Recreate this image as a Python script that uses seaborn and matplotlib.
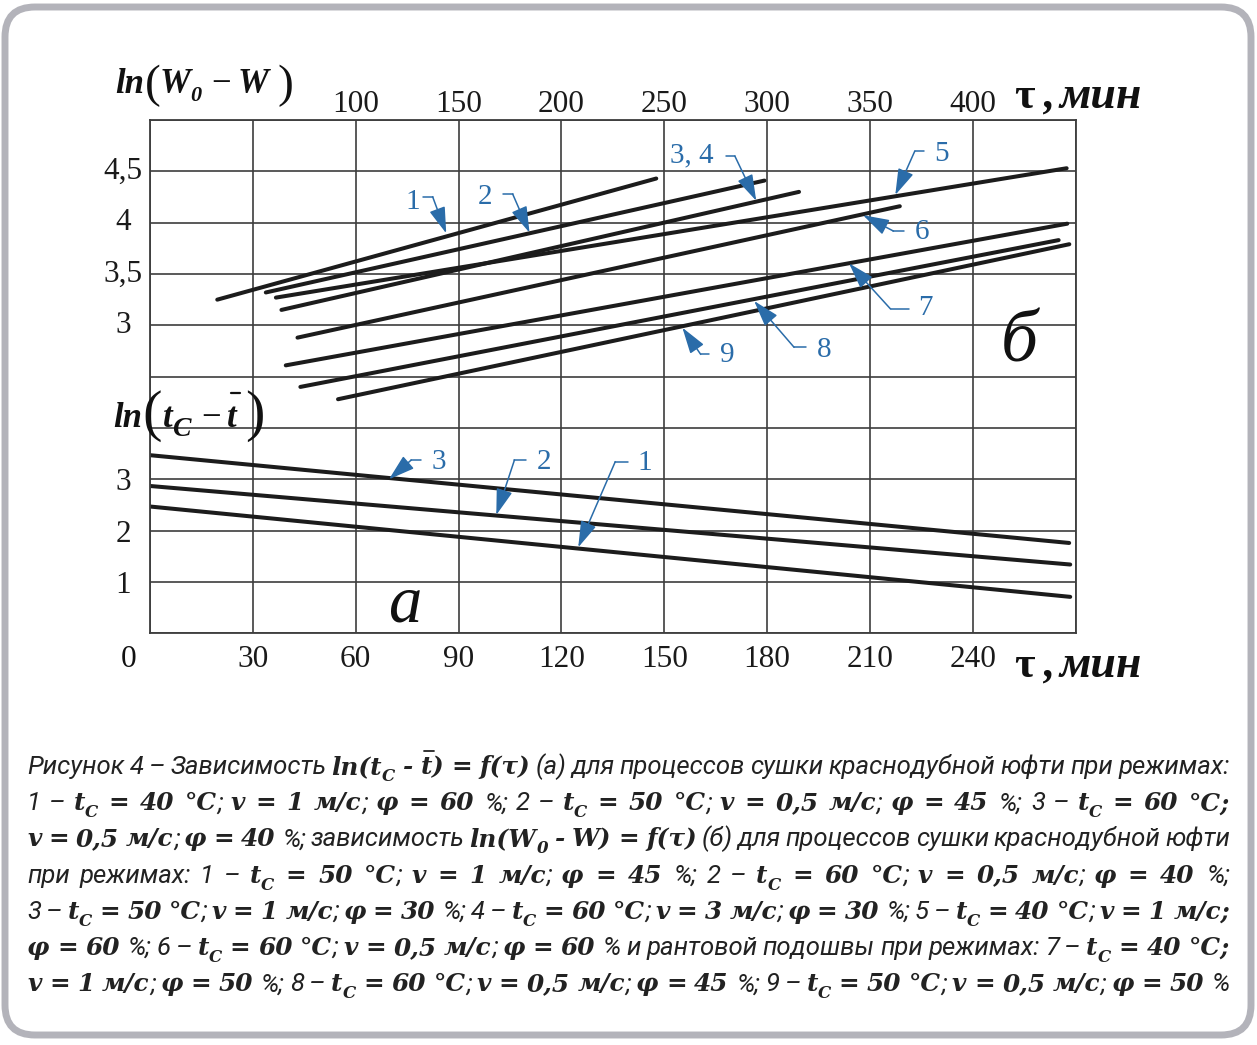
import numpy as np
import pandas as pd
import matplotlib
matplotlib.use('Agg')
import matplotlib.pyplot as plt
import seaborn as sns
from matplotlib.font_manager import FontProperties
from matplotlib.transforms import IdentityTransform
from matplotlib.patches import FancyBboxPatch
from matplotlib.lines import Line2D

# ---------------- data ----------------
# upper chart (б): ln(W0 - W) vs tau (top axis, min)
upper_curves = ['1', '2', '3, 4', '5', '6', '7', '8', '9']
upper_tau_start = [32.7, 56.3, 63.9, 61.2, 71.7, 66.0, 73.1, 91.4]
upper_tau_end = [246.1, 298.7, 315.5, 445.6, 364.5, 445.9, 441.7, 446.9]
upper_ln_start = [3.25, 3.32, 3.15, 3.27, 2.88, 2.61, 2.40, 2.28]
upper_ln_end = [4.43, 4.41, 4.30, 4.53, 4.16, 3.99, 3.83, 3.79]

# lower chart (а): ln(tc - t) vs tau (bottom axis, min)
lower_curves = ['1', '2', '3']
lower_tau_start = [0, 0, 0]
lower_tau_end = [268.4, 268.4, 268.1]
lower_ln_start = [2.47, 2.87, 3.47]
lower_ln_end = [0.71, 1.34, 1.76]

lower_xticks = [30, 60, 90, 120, 150, 180, 210, 240]
lower_yticks = [1, 2, 3]
upper_xticks = [100, 150, 200, 250, 300, 350, 400]
upper_yticks = [3, 3.5, 4, 4.5]
upper_ytick_labels = ['3', '3,5', '4', '4,5']

# callouts of upper chart (label pos, leader start/end x, leader y, arrow tip)
up_lab_x = [127.8, 163.0, 263.5, 384.9, 375.2, 377.0, 327.7, 280.7]
up_lab_y = [4.204, 4.252, 4.659, 4.669, 3.912, 3.166, 2.759, 2.711]
up_h0 = [132.5, 171.5, 280.0, 376.2, 366.7, 368.9, 318.8, 271.8]
up_h1 = [137.4, 176.3, 284.3, 371.8, 361.4, 360.0, 313.1, 267.7]
up_hy = [4.252, 4.279, 4.649, 4.698, 3.918, 3.159, 2.786, 2.717]
up_tip_x = [144.0, 184.5, 294.7, 362.3, 346.6, 339.8, 293.7, 258.8]
up_tip_y = [3.896, 3.902, 4.213, 4.270, 4.073, 3.604, 3.237, 2.977]

# callouts of lower chart
lo_lab_x = [144.4, 114.8, 84.3]
lo_lab_y = [3.312, 3.343, 3.343]
lo_h0 = [139.4, 109.7, 79.1]
lo_h1 = [135.7, 106.3, 76.2]
lo_hy = [3.343, 3.376, 3.376]
lo_tip_x = [124.9, 101.0, 69.7]
lo_tip_y = [1.675, 2.305, 3.0]

caption_lines = [
    [("Рисунок 4 – Зависимость ", 's'), ("ln(t", 'b'), ("C", 'sub'), (" - ", 'b'), ("t", 'ov'),
     (") = f(τ)", 'b'), (" (а) для процессов сушки краснодубной юфти при режимах:", 's')],
    [("1 – ", 's'), ("t", 'b'), ("C", 'sub'), (" = 40 °C", 'b'), ("; ", 's'), ("v = 1 м/с", 'b'), ("; ", 's'),
     ("φ = 60 ", 'b'), ("%; 2 – ", 's'), ("t", 'b'), ("C", 'sub'), (" = 50 °C", 'b'), ("; ", 's'),
     ("v = 0,5 м/с", 'b'), ("; ", 's'), ("φ = 45 ", 'b'), ("%; 3 – ", 's'), ("t", 'b'), ("C", 'sub'),
     (" = 60 °C;", 'b')],
    [("v = 0,5 м/с", 'b'), ("; ", 's'), ("φ = 40 ", 'b'), ("%; зависимость ", 's'), ("ln(W", 'b'),
     ("0", 'sub'), (" - ", 'b'), ("W) = f(τ)", 'b'), (" (б) для процессов сушки краснодубной юфти", 's')],
    [("при режимах: 1 – ", 's'), ("t", 'b'), ("C", 'sub'), (" = 50 °C", 'b'), ("; ", 's'), ("v = 1 м/с", 'b'),
     ("; ", 's'), ("φ = 45 ", 'b'), ("%; 2 – ", 's'), ("t", 'b'), ("C", 'sub'), (" = 60 °C", 'b'), ("; ", 's'),
     ("v = 0,5 м/с", 'b'), ("; ", 's'), ("φ = 40 ", 'b'), ("%;", 's')],
    [("3 – ", 's'), ("t", 'b'), ("C", 'sub'), (" = 50 °C", 'b'), ("; ", 's'), ("v = 1 м/с", 'b'), ("; ", 's'),
     ("φ = 30 ", 'b'), ("%; 4 – ", 's'), ("t", 'b'), ("C", 'sub'), (" = 60 °C", 'b'), ("; ", 's'),
     ("v = 3 м/с", 'b'), ("; ", 's'), ("φ = 30 ", 'b'), ("%; 5 – ", 's'), ("t", 'b'), ("C", 'sub'),
     (" = 40 °C", 'b'), ("; ", 's'), ("v = 1 м/с;", 'b')],
    [("φ = 60 ", 'b'), ("%; 6 – ", 's'), ("t", 'b'), ("C", 'sub'), (" = 60 °C", 'b'), ("; ", 's'),
     ("v = 0,5 м/с", 'b'), ("; ", 's'), ("φ = 60 ", 'b'), ("% и рантовой подошвы при режимах: 7 – ", 's'),
     ("t", 'b'), ("C", 'sub'), (" = 40 °C;", 'b')],
    [("v = 1 м/с", 'b'), ("; ", 's'), ("φ = 50 ", 'b'), ("%; 8 – ", 's'), ("t", 'b'), ("C", 'sub'),
     (" = 60 °C", 'b'), ("; ", 's'), ("v = 0,5 м/с", 'b'), ("; ", 's'), ("φ = 45 ", 'b'), ("%; 9 – ", 's'),
     ("t", 'b'), ("C", 'sub'), (" = 50 °C", 'b'), ("; ", 's'), ("v = 0,5 м/с", 'b'), ("; ", 's'),
     ("φ = 50 ", 'b'), ("%", 's')],
]

# ---------------- figure ----------------
W, H, DPI = 1257, 1045, 100
sns.set_theme(style='white')
plt.rcParams['font.family'] = ['Liberation Serif', 'DejaVu Serif']

fig = plt.figure(figsize=(W / DPI, H / DPI), dpi=DPI)
fig.patch.set_facecolor('white')

L, R, T, B = 150, 1075.7, 120, 633.3
rect = [L / W, 1 - B / H, (R - L) / W, (B - T) / H]
ax = fig.add_axes(rect)
ax2 = fig.add_axes(rect, frameon=False)
ax2.patch.set_alpha(0)

GRID = '#3d3d3d'
LINE = '#1c1c1c'
BLUE = '#2a6ca9'

rows = []
for c, ts, te, ls, le in zip(lower_curves, lower_tau_start, lower_tau_end, lower_ln_start, lower_ln_end):
    rows += [(c, ts, ls), (c, te, le)]
df_lo = pd.DataFrame(rows, columns=['curve', 'tau', 'ln'])
rows = []
for c, ts, te, ls, le in zip(upper_curves, upper_tau_start, upper_tau_end, upper_ln_start, upper_ln_end):
    rows += [(c, ts, ls), (c, te, le)]
df_up = pd.DataFrame(rows, columns=['curve', 'tau', 'ln'])

sns.lineplot(data=df_lo, x='tau', y='ln', hue='curve', palette=[LINE] * len(lower_curves),
             estimator=None, sort=False, legend=False, linewidth=2.9, ax=ax)
sns.lineplot(data=df_up, x='tau', y='ln', hue='curve', palette=[LINE] * len(upper_curves),
             estimator=None, sort=False, legend=False, linewidth=2.9, ax=ax2)

# lower axis: grid + labels
grid_x = np.arange(0, 271, 30)
grid_y = np.arange(0, 11, 1)
ax.set_xticks(grid_x)
ax.set_xticklabels([str(v) if v in lower_xticks else '' for v in grid_x])
ax.set_yticks(grid_y)
ax.set_yticklabels([str(v) if v in lower_yticks else '' for v in grid_y])
ax.grid(True, color=GRID, linewidth=1.2)
ax.set_axisbelow(True)
ax.set_xlim(0, 270)
ax.set_ylim(0, 10)
ax.set_xlabel('')
ax.set_ylabel('')
ax.tick_params(axis='both', length=0, labelsize=22.5, colors='#1a1a1a')
ax.tick_params(axis='x', pad=8.5)
ax.tick_params(axis='y', pad=19.4)
for lab in ax.get_yticklabels():
    lab.set_ha('center')
for s in ax.spines.values():
    s.set_visible(True)
    s.set_color(GRID)
    s.set_linewidth(1.3)

# upper axis
ax2.set_xlim(0, 450)
ax2.set_ylim(0, 5)
ax2.xaxis.tick_top()
ax2.set_xticks(upper_xticks)
ax2.set_xticklabels([str(v) for v in upper_xticks])
ax2.set_yticks(upper_yticks)
ax2.set_yticklabels(upper_ytick_labels)
ax2.grid(False)
ax2.set_xlabel('')
ax2.set_ylabel('')
ax2.tick_params(axis='both', length=0, labelsize=22.5, colors='#1a1a1a')
ax2.tick_params(axis='x', pad=0.5)
ax2.tick_params(axis='y', pad=19.4)
for lab in ax2.get_yticklabels():
    lab.set_ha('center')
    lab.set_va('center')

# callouts
def callouts(a, labs, tx, ty, h0, h1, hy, px, py):
    for lab, x, y, a0, a1, yy, ex, ey in zip(labs, tx, ty, h0, h1, hy, px, py):
        a.text(x, y, lab, color=BLUE, fontsize=21, ha='center', va='center')
        a.add_line(Line2D([a0, a1], [yy, yy], color=BLUE, lw=1.1))
        a.annotate('', xy=(ex, ey), xytext=(a1, yy),
                   arrowprops=dict(arrowstyle='-|>,head_length=0.9,head_width=0.28', color=BLUE,
                                   lw=1.1, shrinkA=0, shrinkB=0, mutation_scale=18))

callouts(ax2, upper_curves, up_lab_x, up_lab_y, up_h0, up_h1, up_hy, up_tip_x, up_tip_y)
callouts(ax, lower_curves, lo_lab_x, lo_lab_y, lo_h0, lo_h1, lo_hy, lo_tip_x, lo_tip_y)
ax2.set_xlim(0, 450)
ax2.set_ylim(0, 5)

# ---------------- free texts (pixel positions) ----------------
ID = IdentityTransform()
renderer = fig.canvas.get_renderer()

def fp(size, style='normal', weight='normal', family='Liberation Serif'):
    return FontProperties(family=family, style=style, weight=weight, size=size)

def put(x, y_img, s, prop, color='#111111', ha='left'):
    return fig.text(x, H - y_img, s, fontproperties=prop, color=color, transform=ID,
                    ha=ha, va='baseline')

BI = dict(style='italic', weight='bold')
# ln(W0 - W)
put(115, 93, 'ln', fp(25, **BI))
put(145, 97, '(', fp(34))
put(160, 93, 'W', fp(25, **BI))
put(190, 101, '0', fp(16, **BI))
put(211, 93, '−', fp(25))
put(238, 93, 'W', fp(25, **BI))
put(277, 97, ')', fp(34))
# ln(tc - t)
put(113, 427, 'ln', fp(25, **BI))
put(142, 430, '(', fp(42))
put(163, 427, 't', fp(25, **BI))
put(172, 436, 'C', fp(20, **BI))
put(201, 427, '−', fp(25))
put(227, 427, 't', fp(25, **BI))
fig.add_artist(Line2D([231, 240], [H - 393, H - 393], color='#111111', lw=1.6, transform=ID))
put(245, 430, ')', fp(42))
# tau, min
for yb in (108, 677):
    put(1014, yb, 'τ', fp(32, weight='bold'))
    put(1044, yb, ',', fp(32, **BI))
    put(1060, yb, 'мин', fp(33, **BI))
# б / а
put(1019, 361, 'б', fp(53, style='italic'), ha='center')
put(405, 622, 'а', fp(48, style='italic'), ha='center')
# zero at origin
put(128.5, 667, '0', fp(22.5), ha='center')

# ---------------- caption (justified runs) ----------------
CAP = '#222222'
styles = {
    's': fp(18.5, style='italic', family='Roboto'),
    'b': fp(17.8, family='DejaVu Serif', **BI),
    'ov': fp(17.8, family='DejaVu Serif', **BI),
    'sub': fp(12, family='DejaVu Serif', **BI),
}
dy = {'s': 0, 'b': 0, 'ov': 0, 'sub': 7}

def width(s, prop):
    t = fig.text(0, 0, s, fontproperties=prop, transform=ID)
    w = t.get_window_extent(renderer).width
    t.remove()
    return w

space_w = {k: width('x x', p) - width('xx', p) for k, p in styles.items()}

X0, X1 = 27, 1230
base0, step = 774, 36.2
for i, runs in enumerate(caption_lines):
    items = []
    for text, st in runs:
        parts = text.split(' ')
        for j, part in enumerate(parts):
            if j > 0:
                items.append(('gap', st))
            if part:
                items.append(('tok', part, st))
    while items and items[0][0] == 'gap':
        items.pop(0)
    while items and items[-1][0] == 'gap':
        items.pop()
    nat = 0
    ngap = 0
    for it in items:
        if it[0] == 'gap':
            nat += space_w[it[1]]
            ngap += 1
        else:
            nat += width(it[1], styles[it[2]])
    extra = (X1 - X0 - nat) / max(ngap, 1)
    x = X0
    yb = base0 + i * step
    for it in items:
        if it[0] == 'gap':
            x += space_w[it[1]] + extra
        else:
            _, s, st = it
            t = put(x, yb + dy[st], s, styles[st], color=CAP)
            w = t.get_window_extent(renderer).width
            if st == 'ov':
                fig.add_artist(Line2D([x + 3, x + w + 2], [H - yb + 23, H - yb + 23],
                                      color=CAP, lw=1.3, transform=ID))
            x += w

# frame
frame = FancyBboxPatch((5, 10), 1246, 1028, boxstyle='round,pad=0,rounding_size=30',
                       transform=ID, fill=False, ec='#b3b3ba', lw=5)
fig.add_artist(frame)

fig.savefig('out.png', dpi=DPI, facecolor='white')
